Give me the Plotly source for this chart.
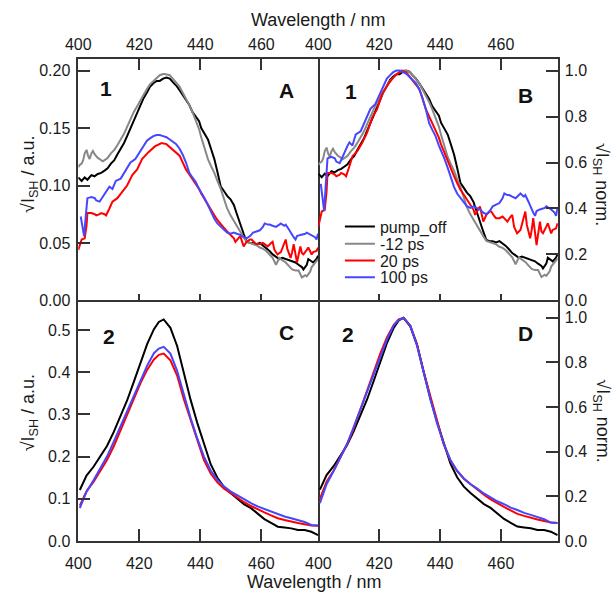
import plotly.graph_objects as go

# ---------------- data: sample 1 (panels A, B) ----------------
wl1_pump_off = [400.0, 401.1, 402.1, 403.0, 404.3, 405.3, 406.4, 407.5, 408.6, 409.6, 410.7, 411.8, 412.8, 413.9,
                415.0, 416.0, 417.1, 418.2, 419.3, 420.3, 421.4, 422.5, 423.5, 424.6, 425.7, 426.7, 427.8, 428.9,
                430.0, 431.0, 432.1, 433.2, 434.2, 435.3, 436.4, 437.4, 438.5, 439.6, 440.3, 441.4, 442.5, 443.5,
                444.6, 445.6, 446.7, 447.8, 448.8, 449.9, 451.0, 452.0, 453.1, 454.2, 455.2, 456.3, 457.3, 458.4,
                459.5, 460.5, 461.6, 462.7, 463.7, 464.8, 465.9, 466.9, 468.0, 469.0, 470.1, 471.2, 472.2, 473.3,
                473.8, 474.9, 475.4, 476.5, 477.0, 478.1, 478.6]
sh1_pump_off = [0.107, 0.104, 0.107, 0.105, 0.109, 0.108, 0.110, 0.111, 0.113, 0.115, 0.119, 0.122, 0.127, 0.132,
                0.137, 0.143, 0.150, 0.157, 0.164, 0.170, 0.176, 0.181, 0.186, 0.189, 0.191, 0.191, 0.193, 0.194,
                0.193, 0.190, 0.187, 0.183, 0.179, 0.174, 0.170, 0.164, 0.160, 0.156, 0.150, 0.145, 0.140, 0.132,
                0.123, 0.112, 0.099, 0.095, 0.091, 0.088, 0.083, 0.075, 0.066, 0.058, 0.051, 0.050, 0.050, 0.049,
                0.050, 0.048, 0.046, 0.043, 0.040, 0.038, 0.036, 0.037, 0.036, 0.035, 0.034, 0.033, 0.031, 0.029,
                0.027, 0.031, 0.036, 0.034, 0.033, 0.036, 0.039]

wl1_m12ps = [400.0, 400.5, 401.1, 401.6, 402.1, 402.7, 403.2, 403.7, 404.3, 404.8, 405.4, 405.9, 406.4, 407.0,
             408.0, 409.1, 409.6, 410.7, 411.8, 412.8, 413.9, 415.0, 416.0, 417.1, 418.2, 419.3, 420.3, 421.4,
             422.5, 423.5, 424.6, 425.7, 426.7, 427.8, 428.3, 430.0, 431.0, 432.1, 433.2, 434.2, 435.3, 436.4,
             437.4, 438.5, 439.6, 440.3, 441.4, 442.5, 443.5, 444.6, 445.6, 446.7, 447.8, 448.8, 449.9, 451.0,
             452.0, 453.1, 454.2, 455.2, 456.3, 457.3, 458.4, 459.5, 460.5, 461.6, 462.7, 463.7, 464.8, 465.3,
             465.9, 466.9, 468.0, 469.0, 470.1, 471.2, 472.2, 473.3, 474.4, 474.9, 476.0, 476.5, 477.6, 478.6]
sh1_m12ps = [0.116, 0.118, 0.119, 0.122, 0.128, 0.131, 0.126, 0.123, 0.128, 0.130, 0.127, 0.125, 0.124, 0.123,
             0.121, 0.123, 0.124, 0.128, 0.131, 0.135, 0.140, 0.145, 0.151, 0.158, 0.164, 0.169, 0.174, 0.179,
             0.184, 0.188, 0.191, 0.194, 0.196, 0.197, 0.197, 0.196, 0.193, 0.190, 0.186, 0.181, 0.176, 0.170,
             0.164, 0.157, 0.149, 0.142, 0.133, 0.123, 0.117, 0.111, 0.104, 0.097, 0.088, 0.080, 0.074, 0.069,
             0.064, 0.059, 0.055, 0.051, 0.050, 0.049, 0.048, 0.046, 0.045, 0.043, 0.040, 0.037, 0.031, 0.034,
             0.037, 0.035, 0.033, 0.030, 0.027, 0.026, 0.026, 0.020, 0.022, 0.021, 0.025, 0.029, 0.033, 0.036]

wl1_20ps = [400.0, 401.1, 402.1, 402.7, 403.0, 404.3, 405.4, 405.9, 407.0, 407.5, 408.6, 409.1, 410.2, 411.2,
            412.8, 414.4, 416.0, 417.7, 419.3, 420.9, 423.0, 425.1, 427.3, 428.9, 431.0, 433.2, 435.3, 437.4,
            439.6, 440.3, 441.4, 442.5, 443.5, 444.6, 445.6, 446.7, 447.8, 448.8, 450.4, 451.0, 451.5, 452.5,
            453.1, 454.2, 455.2, 456.3, 456.8, 457.9, 458.4, 459.5, 460.5, 461.6, 462.1, 463.2, 463.7, 464.3,
            465.3, 466.4, 466.9, 468.0, 468.5, 469.6, 470.1, 470.6, 471.7, 472.8, 473.3, 473.8, 474.9, 475.4,
            476.5, 477.0, 478.1, 478.6]
sh1_20ps = [0.044, 0.053, 0.054, 0.065, 0.076, 0.076, 0.075, 0.074, 0.075, 0.076, 0.075, 0.074, 0.080, 0.086,
            0.089, 0.094, 0.100, 0.109, 0.114, 0.123, 0.129, 0.134, 0.137, 0.136, 0.131, 0.126, 0.114, 0.106,
            0.097, 0.093, 0.088, 0.083, 0.078, 0.074, 0.070, 0.066, 0.063, 0.060, 0.056, 0.054, 0.051, 0.054,
            0.056, 0.047, 0.051, 0.053, 0.053, 0.050, 0.049, 0.049, 0.050, 0.048, 0.047, 0.050, 0.051, 0.044,
            0.040, 0.042, 0.045, 0.053, 0.045, 0.037, 0.042, 0.049, 0.033, 0.047, 0.041, 0.040, 0.044, 0.046,
            0.040, 0.042, 0.043, 0.046]

wl1_100ps = [400.8, 401.4, 401.9, 402.5, 403.0, 404.3, 405.4, 405.9, 407.0, 407.5, 408.6, 409.6, 410.2, 411.2,
             411.8, 412.3, 413.9, 415.5, 417.1, 418.7, 420.3, 421.4, 422.5, 423.5, 424.6, 425.7, 426.7, 427.8,
             428.9, 430.0, 431.0, 432.1, 433.2, 434.2, 435.3, 436.4, 437.4, 438.5, 439.6, 440.3, 441.4, 442.5,
             443.5, 444.6, 445.6, 446.7, 447.8, 448.8, 449.9, 451.0, 452.0, 453.1, 454.2, 455.2, 456.3, 457.3,
             458.4, 459.5, 460.5, 461.1, 462.1, 462.7, 463.7, 464.8, 465.9, 466.4, 467.5, 468.0, 469.0, 469.6,
             470.6, 471.2, 471.7, 472.8, 474.4, 474.9, 476.5, 477.6, 478.1, 478.6]
sh1_100ps = [0.073, 0.065, 0.056, 0.075, 0.089, 0.090, 0.089, 0.087, 0.086, 0.088, 0.093, 0.097, 0.099, 0.097,
             0.101, 0.104, 0.106, 0.113, 0.120, 0.123, 0.130, 0.135, 0.139, 0.141, 0.143, 0.144, 0.144, 0.143,
             0.142, 0.140, 0.138, 0.136, 0.132, 0.127, 0.120, 0.111, 0.107, 0.103, 0.097, 0.094, 0.089, 0.083,
             0.077, 0.071, 0.067, 0.064, 0.061, 0.059, 0.058, 0.059, 0.058, 0.057, 0.055, 0.054, 0.056, 0.059,
             0.060, 0.061, 0.064, 0.067, 0.066, 0.066, 0.065, 0.064, 0.066, 0.067, 0.065, 0.066, 0.062, 0.059,
             0.055, 0.053, 0.056, 0.057, 0.058, 0.059, 0.057, 0.055, 0.053, 0.058]

# ---------------- data: sample 2 (panels C, D) ----------------
wl2 = [400.5, 402.7, 405.0, 407.2, 409.4, 411.6, 413.8, 416.0, 418.2, 420.4, 422.6, 424.8, 426.4, 428.0,
       430.2, 432.4, 434.6, 436.8, 439.0, 441.2, 443.4, 445.6, 447.8, 450.0, 452.2, 454.4, 456.6, 458.8,
       461.0, 463.2, 465.4, 467.6, 469.8, 472.0, 474.2, 476.4, 478.6]
sh2_pump_off = [0.121, 0.155, 0.176, 0.199, 0.225, 0.258, 0.295, 0.333, 0.377, 0.424, 0.467, 0.502, 0.519, 0.525,
                0.505, 0.462, 0.398, 0.335, 0.280, 0.228, 0.182, 0.150, 0.128, 0.113, 0.100, 0.087, 0.078, 0.066,
                0.052, 0.043, 0.034, 0.032, 0.030, 0.026, 0.026, 0.022, 0.014]
sh2_20ps = [0.084, 0.118, 0.140, 0.166, 0.192, 0.224, 0.262, 0.298, 0.336, 0.374, 0.406, 0.430, 0.441, 0.444,
            0.428, 0.392, 0.336, 0.287, 0.236, 0.192, 0.160, 0.139, 0.124, 0.113, 0.103, 0.092, 0.083, 0.075,
            0.068, 0.061, 0.054, 0.050, 0.046, 0.043, 0.040, 0.037, 0.036]
sh2_100ps = [0.078, 0.117, 0.144, 0.173, 0.200, 0.235, 0.271, 0.307, 0.345, 0.383, 0.416, 0.445, 0.456, 0.460,
             0.444, 0.403, 0.346, 0.292, 0.243, 0.200, 0.167, 0.145, 0.129, 0.117, 0.108, 0.098, 0.090, 0.082,
             0.076, 0.069, 0.064, 0.058, 0.054, 0.050, 0.045, 0.038, 0.037]

x_ticks = [400, 420, 440, 460]
labels = ["pump_off", "-12 ps", "20 ps", "100 ps"]
colors = ["#000000", "#888888", "#ff0000", "#4646ff"]

for a, b in [(wl1_pump_off, sh1_pump_off), (wl1_m12ps, sh1_m12ps), (wl1_20ps, sh1_20ps),
             (wl1_100ps, sh1_100ps), (wl2, sh2_pump_off), (wl2, sh2_20ps), (wl2, sh2_100ps)]:
    assert len(a) == len(b), (len(a), len(b))


def norm(v):
    m = max(v)
    return [x / m for x in v]


W, H = 612, 599
FONT = "Liberation Sans, Arial, Helvetica, sans-serif"
AXC = "#333333"
TXT = "#1a1a1a"


def px(x):
    return x / W


def py(y):
    return 1 - y / H


fig = go.Figure()

set1 = [(wl1_pump_off, sh1_pump_off), (wl1_m12ps, sh1_m12ps), (wl1_20ps, sh1_20ps), (wl1_100ps, sh1_100ps)]
for (wl, sh), lab, col in zip(set1, labels, colors):
    fig.add_trace(go.Scatter(x=wl, y=sh, mode="lines", line=dict(color=col, width=2),
                             xaxis="x", yaxis="y", showlegend=False, name=lab))
legend_ids = ["legend", "legend2", "legend3", "legend4"]
for (wl, sh), lab, col, lg in zip(set1, labels, colors, legend_ids):
    fig.add_trace(go.Scatter(x=wl, y=norm(sh), mode="lines", line=dict(color=col, width=2),
                             xaxis="x2", yaxis="y2", showlegend=True, name=lab, legend=lg))

set2 = [(wl2, sh2_pump_off, 0), (wl2, sh2_20ps, 2), (wl2, sh2_100ps, 3)]
for wl, sh, k in set2:
    fig.add_trace(go.Scatter(x=wl, y=sh, mode="lines", line=dict(color=colors[k], width=2),
                             xaxis="x3", yaxis="y3", showlegend=False, name=labels[k]))
for wl, sh, k in set2:
    fig.add_trace(go.Scatter(x=wl, y=norm(sh), mode="lines", line=dict(color=colors[k], width=2),
                             xaxis="x4", yaxis="y4", showlegend=False, name=labels[k]))

# helper traces so the bottom tick-only axes of A and B get drawn
fig.add_trace(go.Scatter(x=[None], y=[None], xaxis="x5", yaxis="y", showlegend=False, hoverinfo="skip"))
fig.add_trace(go.Scatter(x=[None], y=[None], xaxis="x6", yaxis="y2", showlegend=False, hoverinfo="skip"))

XR = [400, 478.7]
xl, xm, xr = px(66.7), px(312), px(556.7)
yt, ym, yb = py(60), py(305), py(549.3)

tickfont = dict(family=FONT, size=16, color=TXT)
base = dict(showline=True, linecolor=AXC, linewidth=1.5, ticks="inside", ticklen=12,
            tickwidth=1.5, tickcolor=AXC, showgrid=False, zeroline=False, tickfont=tickfont)

fig.update_layout(
    width=W, height=H, margin=dict(l=0, r=0, t=0, b=0),
    plot_bgcolor="white", paper_bgcolor="white",
    font=dict(family=FONT, size=16, color=TXT),
    xaxis=dict(base, domain=[xl, xm], anchor="y", side="top", range=XR, tickvals=x_ticks, ticklen=11,
               mirror=True, ticklabelstandoff=1),
    yaxis=dict(base, domain=[ym, yt], anchor="x", range=[0, 0.21], tickvals=[0, 0.05, 0.10, 0.15, 0.20],
               tickformat=".2f", mirror=True, ticklabelstandoff=3),
    xaxis2=dict(base, domain=[xm, xr], anchor="y2", side="top", range=XR, tickvals=x_ticks, ticklen=11,
                mirror=True, ticklabelstandoff=1),
    yaxis2=dict(base, domain=[ym, yt], anchor="x2", side="right", range=[0, 1.05],
                tickvals=[0, 0.2, 0.4, 0.6, 0.8, 1.0], tickformat=".1f", mirror=False, ticklabelstandoff=2),
    xaxis3=dict(base, domain=[xl, xm], anchor="y3", side="bottom", range=XR, tickvals=x_ticks,
                mirror=False, ticklabelstandoff=7),
    yaxis3=dict(base, domain=[yb, ym], anchor="x3", range=[0, 0.57],
                tickvals=[0, 0.1, 0.2, 0.3, 0.4, 0.5], tickformat=".1f", mirror=True, ticklabelstandoff=3),
    xaxis4=dict(base, domain=[xm, xr], anchor="y4", side="bottom", range=XR, tickvals=x_ticks,
                mirror=False, ticklabelstandoff=7),
    yaxis4=dict(base, domain=[yb, ym], anchor="x4", side="right", range=[0, 1.078],
                tickvals=[0, 0.2, 0.4, 0.6, 0.8, 1.0], tickformat=".1f", mirror=False, ticklabelstandoff=2),
    xaxis5=dict(overlaying="x", anchor="y", side="bottom", range=XR, tickvals=x_ticks, ticks="inside",
                ticklen=6, tickwidth=1.5, tickcolor=AXC, showticklabels=False, showline=False,
                showgrid=False, zeroline=False),
    xaxis6=dict(overlaying="x2", anchor="y2", side="bottom", range=XR, tickvals=x_ticks, ticks="inside",
                ticklen=6, tickwidth=1.5, tickcolor=AXC, showticklabels=False, showline=False,
                showgrid=False, zeroline=False),
)

leg_font = dict(family=FONT, size=16, color=TXT)
row_y = [230, 247.5, 264.5, 281.5]
for lg, ry in zip(legend_ids, row_y):
    fig.update_layout({lg: dict(x=px(334), y=py(ry), xanchor="left", yanchor="middle",
                                bgcolor="rgba(0,0,0,0)", font=leg_font, itemwidth=30,
                                borderwidth=0)})

ann = []
title_font = dict(family=FONT, size=18, color=TXT)
ann.append(dict(x=px(312), y=py(20), text="Wavelength / nm", font=title_font, showarrow=False,
                xref="paper", yref="paper", xanchor="center", yanchor="middle"))
ann.append(dict(x=px(308), y=py(591), text="Wavelength / nm", font=title_font, showarrow=False,
                xref="paper", yref="paper", xanchor="center", yanchor="middle"))
for yl, yr in ((177, 187), (419, 427)):
    ann.append(dict(x=px(17), y=py(yl), text="√I<sub>SH</sub> / a.u.", textangle=-90, font=title_font,
                    showarrow=False, xref="paper", yref="paper", xanchor="center", yanchor="middle"))
    ann.append(dict(x=px(601), y=py(yr), text="√I<sub>SH</sub> norm.", textangle=90, font=title_font,
                    showarrow=False, xref="paper", yref="paper", xanchor="center", yanchor="middle"))

bold = dict(family=FONT, size=21, color="#111")
for txt, xx, yy in [("<b>1</b>", 95, 90), ("<b>A</b>", 279.5, 91.5), ("<b>1</b>", 345, 92.5),
                    ("<b>B</b>", 523.5, 97), ("<b>2</b>", 98.5, 341.5), ("<b>C</b>", 279.5, 337.5),
                    ("<b>2</b>", 342.5, 340), ("<b>D</b>", 523.5, 339)]:
    ann.append(dict(x=px(xx), y=py(yy), text=txt, font=bold, showarrow=False, xref="paper", yref="paper",
                    xanchor="center", yanchor="middle"))

fig.update_layout(annotations=ann)
fig.write_html("out.html", config={"displayModeBar": False},
               post_script="document.body.style.margin='0';document.body.style.overflow='hidden';")
